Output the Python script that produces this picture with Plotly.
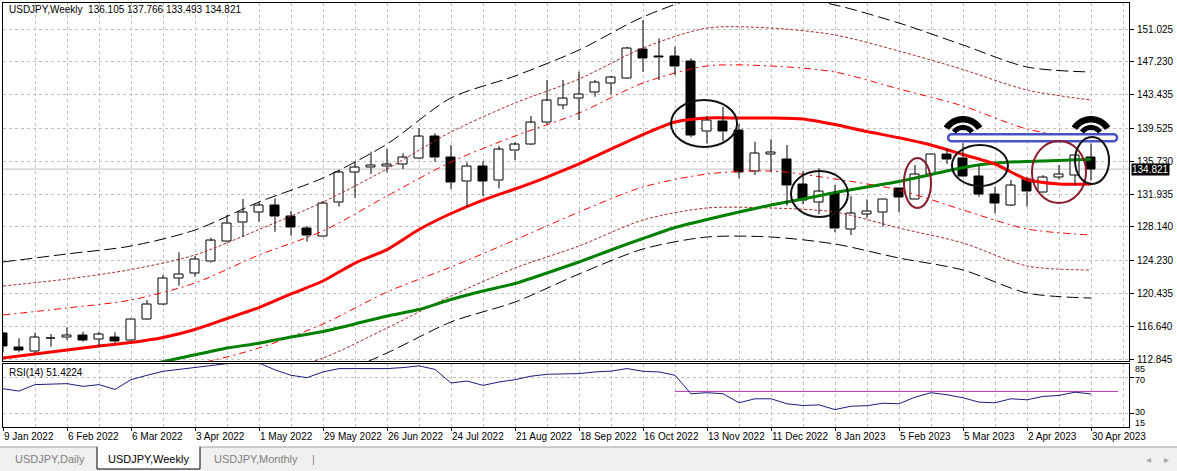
import numpy as np
import plotly.graph_objects as go

# ---------------- DATA ----------------
week_labels = ["9 Jan 2022", "6 Feb 2022", "6 Mar 2022", "3 Apr 2022", "1 May 2022", "29 May 2022",
               "26 Jun 2022", "24 Jul 2022", "21 Aug 2022", "18 Sep 2022", "16 Oct 2022", "13 Nov 2022",
               "11 Dec 2022", "8 Jan 2023", "5 Feb 2023", "5 Mar 2023", "2 Apr 2023", "30 Apr 2023"]
label_bars = list(range(0, 69, 4))

open_ = [115.82, 114.20, 113.69, 115.25, 115.31, 115.51, 115.12, 115.36, 114.96, 117.44,
         119.18, 122.18, 122.76, 124.10, 126.42, 128.66, 129.82, 130.66, 129.39, 127.97,
         127.00, 130.97, 134.45, 134.98, 135.09, 135.37, 136.07, 138.57, 136.18, 133.36,
         135.17, 133.47, 136.95, 137.69, 140.18, 142.23, 143.01, 143.70, 144.74, 145.32,
         148.68, 147.90, 147.90, 147.32, 139.14, 140.38, 139.34, 134.52, 136.53, 135.95,
         132.98, 130.97, 132.02, 127.85, 129.62, 129.82, 132.60, 131.32, 134.25, 136.56,
         136.07, 134.02, 131.90, 130.66, 133.56, 132.09, 133.87, 134.13, 136.105]
high = [115.97, 115.24, 115.89, 115.74, 116.51, 116.00, 116.00, 115.93, 117.50, 119.67,
        122.56, 125.19, 124.76, 126.88, 129.51, 131.36, 130.97, 131.44, 129.97, 128.23,
        131.13, 134.71, 135.75, 136.83, 137.14, 136.64, 139.54, 138.96, 137.61, 135.60,
        135.75, 137.52, 137.92, 140.96, 145.13, 145.13, 146.09, 145.13, 145.59, 148.98,
        152.07, 149.95, 148.98, 147.63, 140.96, 142.04, 140.03, 137.99, 138.27, 137.61,
        134.60, 134.91, 132.98, 131.70, 131.32, 131.35, 132.65, 135.29, 136.60, 137.22,
        137.80, 135.29, 132.78, 133.56, 133.94, 134.13, 135.29, 136.50, 137.766]
low = [113.62, 113.62, 113.51, 114.27, 115.04, 114.85, 114.27, 114.66, 114.90, 117.36,
       119.10, 121.33, 122.37, 124.00, 126.30, 127.00, 128.73, 127.57, 127.11, 126.42,
       126.95, 130.47, 131.51, 134.25, 134.45, 134.83, 136.00, 135.67, 132.51, 130.47,
       131.70, 132.60, 135.87, 137.60, 140.03, 141.73, 140.50, 143.19, 143.47, 145.25,
       146.09, 145.13, 145.70, 138.50, 137.80, 138.07, 133.75, 134.13, 134.52, 130.58,
       130.75, 129.59, 127.51, 127.19, 129.12, 128.15, 129.82, 131.30, 134.05, 135.41,
       133.90, 131.62, 129.70, 130.55, 130.47, 132.02, 133.64, 132.98, 133.493]
close = [114.27, 113.81, 115.36, 115.20, 115.59, 115.04, 115.70, 114.85, 117.44, 119.21,
         122.18, 122.68, 124.38, 126.50, 128.55, 129.82, 130.66, 129.31, 128.04, 127.11,
         130.86, 134.45, 135.02, 135.29, 135.37, 136.18, 138.57, 136.13, 133.24, 135.17,
         133.44, 137.03, 137.61, 140.18, 142.70, 143.01, 143.47, 144.86, 145.44, 148.79,
         147.56, 147.70, 146.66, 138.76, 140.50, 139.14, 134.40, 136.64, 136.76, 132.90,
         131.13, 132.20, 127.89, 129.70, 129.97, 131.32, 131.55, 134.22, 136.56, 135.95,
         133.94, 131.90, 130.86, 132.90, 132.20, 133.87, 134.25, 136.45, 134.821]

# moving averages (every 2 bars)
ma_bars = list(range(0, 69, 2))
ma_red = [112.96, 113.42, 113.89, 114.35, 114.75, 115.33, 116.26, 117.53, 118.80, 120.37,
          121.87, 123.95, 125.51, 127.83, 129.68, 131.24, 132.52, 133.90, 135.41, 137.14,
          138.82, 140.27, 140.73, 140.73, 140.73, 140.62, 139.98, 139.17, 138.45, 137.61,
          136.51, 135.41, 133.61, 133.09, 133.09]
ma_green = [108.56, 109.26, 110.07, 110.88, 111.69, 112.54, 113.33, 114.12, 114.67, 115.39,
            116.03, 116.90, 117.82, 118.57, 119.73, 120.71, 121.58, 122.80, 124.07, 125.46,
            126.79, 128.06, 128.99, 129.85, 130.66, 131.36, 132.11, 132.75, 133.38, 134.19,
            135.00, 135.52, 135.70, 135.81, 135.96]

# envelope bands (every 4 bars)
band_bars = list(range(0, 69, 4))
band_black_up = [124.07, 125.00, 125.92, 127.77, 131.01, 133.79, 137.72, 143.05, 145.59, 148.60,
                 152.42, 154.96, 155.08, 153.81, 151.72, 149.18, 146.63, 146.05]
band_brown_up = [121.29, 122.10, 123.20, 124.88, 127.83, 131.01, 134.83, 139.11, 142.47, 145.24,
                 148.83, 151.14, 151.14, 150.34, 148.48, 146.34, 143.97, 142.81]
band_red_up = [117.94, 118.75, 119.67, 121.64, 124.88, 127.66, 131.71, 135.64, 138.65, 141.31,
               144.78, 146.75, 146.75, 146.05, 144.09, 142.12, 139.46, 138.30]
band_red_lo = [110.41, 110.99, 111.69, 112.27, 114.12, 116.89, 120.60, 123.49, 126.62, 129.85,
               132.75, 134.25, 134.60, 133.67, 132.40, 130.09, 127.89, 127.19]
band_brown_lo = [108.10, 108.45, 109.03, 109.84, 110.99, 112.96, 116.43, 120.13, 123.37, 125.92,
                 128.93, 130.32, 130.32, 129.85, 128.00, 126.27, 123.61, 123.14]
band_black_lo = [103.70, 104.40, 105.21, 106.37, 108.10, 110.41, 113.54, 117.13, 119.44, 122.68,
                 125.57, 126.96, 126.96, 126.15, 124.53, 123.14, 120.48, 119.90]

rsi = [57.2, 54.6, 61.7, 62.0, 62.8, 59.8, 61.7, 56.4, 67.2, 72.0,
       76.4, 78.5, 80.6, 82.5, 84.2, 87.0, 85.5, 78.0, 72.0, 69.4,
       75.7, 79.4, 79.4, 79.4, 79.4, 80.5, 82.4, 78.5, 63.5, 65.7,
       60.9, 64.6, 67.2, 71.0, 73.1, 73.5, 73.9, 75.7, 76.6, 79.4,
       76.4, 75.7, 72.0, 51.7, 52.8, 51.7, 41.7, 46.1, 46.1, 40.6,
       38.7, 39.4, 34.2, 37.9, 38.5, 41.2, 40.6, 47.9, 52.8, 50.6,
       47.2, 42.4, 41.7, 46.1, 45.0, 48.7, 49.8, 53.4, 51.4224]
rsi_level = 54.2
rsi_level_span = [42, 69.7]

price_ticks = [151.025, 147.230, 143.435, 139.525, 135.730, 131.935, 128.140, 124.230,
               120.435, 116.640, 112.845]
rsi_scale_labels = ["85", "70", "30", "15"]
rsi_grid_levels = [70, 30]

# drawn objects (bar index / price)
ellipses = [  # x0, x1, y0, y1, color
    (41.75, 45.88, 137.38, 142.81, "#111111"),
    (49.25, 52.81, 129.28, 134.60, "#111111"),
    (56.31, 58.00, 130.32, 136.10, "#8A1C2C"),
    (59.31, 62.81, 132.86, 137.61, "#111111"),
    (64.31, 67.69, 130.89, 138.07, "#8A1C2C"),
    (67.00, 69.13, 133.09, 138.53, "#111111"),
]
level_box = (64.35, 138.45)   # centre of the blue pill (bar, price)
arc_marks = [(60, 138.3), (68, 138.3)]

# ---------------- LAYOUT GEOMETRY ----------------
W, H = 1177, 471
XL, XR = 2.5, 1129.0
MT, MB = 2.5, 361.0
RT, RB = 363.5, 427.0
x_range = [-0.031, 70.375]
y_range = [112.614, 154.096]
FONT = "Liberation Sans, Arial, sans-serif"
GRID = "#C0C0C0"

n = len(close)
idx = list(range(n))

fig = go.Figure()

band_specs = [
    (band_black_up, "black", "12px,5px"), (band_black_lo, "black", "12px,5px"),
    (band_brown_up, "#A52A2A", "3px,2px"), (band_brown_lo, "#A52A2A", "3px,2px"),
    (band_red_up, "#FF0000", "7px,4px,2px,4px"), (band_red_lo, "#FF0000", "7px,4px,2px,4px"),
]
for vals, col, dash in band_specs:
    fig.add_trace(go.Scatter(x=band_bars, y=vals, mode="lines",
                             line=dict(color=col, width=1, dash=dash, shape="spline", smoothing=0.8),
                             hoverinfo="skip", xaxis="x", yaxis="y"))

fig.add_trace(go.Scatter(x=ma_bars, y=ma_green, mode="lines",
                         line=dict(color="#008000", width=3, shape="spline", smoothing=0.6),
                         hoverinfo="skip", xaxis="x", yaxis="y"))
fig.add_trace(go.Scatter(x=ma_bars, y=ma_red, mode="lines",
                         line=dict(color="#FF0000", width=3, shape="spline", smoothing=0.6),
                         hoverinfo="skip", xaxis="x", yaxis="y"))

# wicks (outside the bodies)
wx, wy = [], []
for i in idx:
    top = max(open_[i], close[i])
    bot = min(open_[i], close[i])
    wx += [i, i, None, i, i, None]
    wy += [top, high[i], None, low[i], bot, None]
fig.add_trace(go.Scatter(x=wx, y=wy, mode="lines", line=dict(color="black", width=1),
                         hoverinfo="skip", xaxis="x", yaxis="y"))

# bodies
body_base = [min(o, c) for o, c in zip(open_, close)]
body_h = [max(abs(c - o), 0.05) for o, c in zip(open_, close)]
body_col = ["white" if c >= o else "black" for o, c in zip(open_, close)]
fig.add_trace(go.Bar(x=idx, y=body_h, base=body_base, width=0.6,
                     marker=dict(color=body_col, line=dict(color="black", width=1)),
                     hoverinfo="skip", xaxis="x", yaxis="y"))

# RSI
fig.add_trace(go.Scatter(x=rsi_level_span, y=[rsi_level, rsi_level], mode="lines",
                         line=dict(color="#B43CB4", width=1), hoverinfo="skip",
                         xaxis="x2", yaxis="y2"))
fig.add_trace(go.Scatter(x=idx, y=rsi, mode="lines", line=dict(color="#1C1C80", width=1),
                         hoverinfo="skip", xaxis="x2", yaxis="y2"))

axis_common = dict(showline=True, mirror=True, linecolor="black", linewidth=1,
                   zeroline=False, fixedrange=True, automargin=False)
fig.update_layout(
    template="none",
    width=W, height=H, margin=dict(l=0, r=0, t=0, b=0, pad=0, autoexpand=False),
    paper_bgcolor="white", plot_bgcolor="white", showlegend=False,
    bargap=0, barmode="overlay",
    font=dict(family=FONT, size=10, color="black"),
    xaxis=dict(domain=[XL / W, XR / W], range=x_range, anchor="y",
               tickvals=list(range(0, 71, 2)), showticklabels=False, ticks="",
               showgrid=True, gridcolor=GRID, griddash="3px,3px", gridwidth=1, **axis_common),
    yaxis=dict(domain=[1 - MB / H, 1 - MT / H], range=y_range, side="right", anchor="x",
               tickvals=price_ticks, ticktext=[f"{v:.3f}" for v in price_ticks],
               ticks="outside", ticklen=4, tickcolor="black", ticklabelstandoff=1,
               showgrid=True, gridcolor=GRID, griddash="3px,3px", gridwidth=1, **axis_common),
    xaxis2=dict(domain=[XL / W, XR / W], range=x_range, anchor="y2",
                tickvals=label_bars, ticktext=week_labels, tickangle=0, ticks="outside", ticklen=3,
                tickcolor="black", ticklabelposition="outside right", ticklabeloverflow="allow",
                showgrid=True, gridcolor=GRID, griddash="3px,3px", gridwidth=1,
                minor=dict(tickvals=list(range(2, 71, 4)), showgrid=True, gridcolor=GRID,
                           griddash="3px,3px", ticks=""),
                **axis_common),
    yaxis2=dict(domain=[1 - RB / H, 1 - RT / H], range=[15, 85], side="right", anchor="x2",
                tickvals=rsi_grid_levels, showticklabels=False, ticks="outside", ticklen=4,
                tickcolor="black",
                showgrid=True, gridcolor=GRID, griddash="3px,3px", gridwidth=1, **axis_common),
)

shapes = []
shapes.append(dict(type="line", xref="x", yref="y", x0=x_range[0], x1=x_range[1],
                   y0=close[-1], y1=close[-1], line=dict(color=GRID, width=1), layer="below"))


def pts_to_path(pts):
    return "M " + " L ".join(f"{px:.2f},{py:.2f}" for px, py in pts) + " Z"


hw, hh = 84.5, 3.5
pill = []
for a in np.linspace(-np.pi / 2, np.pi / 2, 14):
    pill.append((hw - hh + hh * np.cos(a), hh * np.sin(a)))
for a in np.linspace(np.pi / 2, 3 * np.pi / 2, 14):
    pill.append((-(hw - hh) + hh * np.cos(a), hh * np.sin(a)))
shapes.append(dict(type="path", xref="x", yref="y", xsizemode="pixel", ysizemode="pixel",
                   xanchor=level_box[0], yanchor=level_box[1], path=pts_to_path(pill),
                   fillcolor="white", line=dict(color="#4752C4", width=2.5), layer="above"))

for x0, x1, y0, y1, col in ellipses:
    shapes.append(dict(type="circle", xref="x", yref="y", x0=x0, x1=x1, y0=y0, y1=y1,
                       line=dict(color=col, width=2), layer="above"))


def sector(r_in, r_out, a0, a1, k=24):
    angs = np.linspace(np.radians(a0), np.radians(a1), k)
    outer = [(r_out * np.cos(a), r_out * np.sin(a)) for a in angs]
    inner = [(r_in * np.cos(a), r_in * np.sin(a)) for a in angs[::-1]]
    return pts_to_path(outer + inner)


for bx, py in arc_marks:
    for r_in, r_out, a0, a1 in [(16.5, 23.0, 33, 147), (9.0, 14.0, 38, 142)]:
        shapes.append(dict(type="path", xref="x", yref="y", xsizemode="pixel",
                           ysizemode="pixel", xanchor=bx, yanchor=py,
                           path=sector(r_in, r_out, a0, a1), fillcolor="black",
                           line=dict(width=0), layer="above"))


def py2p(py):
    return 1 - py / H


shapes.append(dict(type="rect", xref="paper", yref="paper", x0=0, x1=1, y0=0, y1=py2p(447),
                   fillcolor="#F0F0F0", line=dict(width=0), layer="above"))
shapes.append(dict(type="line", xref="paper", yref="paper", x0=0, x1=1, y0=py2p(447),
                   y1=py2p(447), line=dict(color="#A0A0A0", width=1), layer="above"))
shapes.append(dict(type="rect", xref="paper", yref="paper", x0=97 / W, x1=200 / W,
                   y0=py2p(469), y1=py2p(447), fillcolor="white",
                   line=dict(color="black", width=1), layer="above"))
shapes.append(dict(type="line", xref="paper", yref="paper", x0=97.5 / W, x1=199.5 / W,
                   y0=py2p(447), y1=py2p(447), line=dict(color="white", width=2), layer="above"))
fig.update_layout(shapes=shapes)

ann = []
ann.append(dict(xref="paper", yref="paper", x=7 / W, y=py2p(10), xanchor="left", yanchor="middle",
                text=f"USDJPY,Weekly  {open_[-1]:.3f} {high[-1]:.3f} {low[-1]:.3f} {close[-1]:.3f}",
                showarrow=False, font=dict(size=10, color="black")))
ann.append(dict(xref="paper", yref="paper", x=7 / W, y=py2p(372), xanchor="left",
                yanchor="middle", text=f"RSI(14) {rsi[-1]:.4f}", showarrow=False,
                font=dict(size=10, color="black")))
ann.append(dict(xref="paper", yref="y", x=1130.5 / W, y=close[-1], xanchor="left",
                yanchor="middle", text=f"{close[-1]:.3f}", showarrow=False,
                bgcolor="black", borderpad=0, font=dict(size=10, color="white")))
for txt, cy in zip(rsi_scale_labels, [368.5, 379.5, 411.5, 422.5]):
    ann.append(dict(xref="paper", yref="paper", x=1133 / W, y=py2p(cy), xanchor="left",
                    yanchor="middle", text=txt, showarrow=False, font=dict(size=9)))
for txt, cx, col in [("USDJPY,Daily", 50, "#808080"), ("USDJPY,Weekly", 148.5, "black"),
                     ("USDJPY,Monthly", 256, "#808080"), ("|", 313, "#808080")]:
    ann.append(dict(xref="paper", yref="paper", x=cx / W, y=py2p(459), xanchor="center",
                    yanchor="middle", text=txt, showarrow=False, font=dict(size=11, color=col)))
ann.append(dict(xref="paper", yref="paper", x=1148 / W, y=py2p(459), xanchor="center",
                yanchor="middle", text="◂", showarrow=False, font=dict(size=10, color="#A8A8A8")))
ann.append(dict(xref="paper", yref="paper", x=1166 / W, y=py2p(459), xanchor="center",
                yanchor="middle", text="▸", showarrow=False, font=dict(size=10, color="#A8A8A8")))
fig.update_layout(annotations=ann)

fig.write_html("out.html")
